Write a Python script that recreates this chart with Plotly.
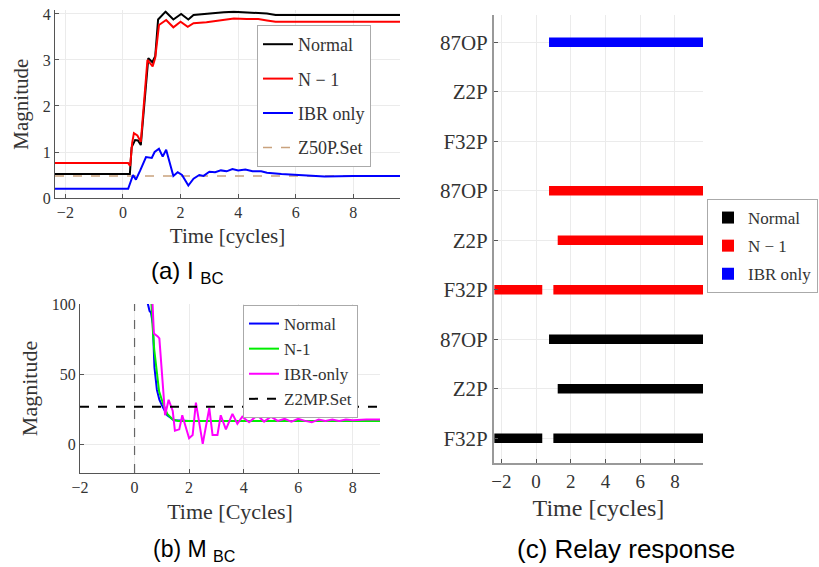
import plotly.graph_objects as go

# ---------------- Panel (a): I_BC ----------------
t_a_normal = [-2.36, 0.24, 0.30, 0.42, 0.52, 0.62, 0.88, 1.02, 1.12, 1.22, 1.48, 1.75, 2.02, 2.27, 2.45,
              2.9, 3.5, 3.85, 4.3, 4.7, 5.0, 5.3, 6.0, 7.0, 8.0, 9.62]
i_a_normal = [0.52, 0.52, 1.10, 1.26, 1.25, 1.15, 3.04, 2.95, 3.08, 3.88, 4.05, 3.88, 4.00, 3.88, 3.98,
              4.01, 4.04, 4.05, 4.04, 4.03, 4.01, 3.98, 3.98, 3.98, 3.98, 3.98]

t_a_n1 = [-2.36, 0.18, 0.25, 0.32, 0.38, 0.50, 0.62, 0.85, 1.03, 1.12, 1.25, 1.50, 1.75, 2.0, 2.25,
          2.45, 2.9, 3.5, 3.85, 4.3, 4.7, 5.0, 5.3, 6.0, 9.62]
i_a_n1 = [0.76, 0.76, 0.70, 1.20, 1.41, 1.36, 1.22, 3.00, 2.86, 3.05, 3.76, 3.87, 3.71, 3.83, 3.72,
          3.80, 3.82, 3.87, 3.90, 3.89, 3.89, 3.86, 3.83, 3.83, 3.83]

t_a_ibr = [-2.36, 0.18, 0.35, 0.45, 0.6, 0.8, 1.0, 1.1, 1.25, 1.38, 1.5, 1.62, 1.75, 1.9, 2.05, 2.27,
           2.45, 2.65, 2.8, 3.0, 3.2, 3.4, 3.6, 3.8, 4.0, 4.25, 4.5, 4.8, 5.0, 5.5, 6.0, 6.5, 7.0, 8.0, 9.62]
i_a_ibr = [0.20, 0.20, 0.50, 0.40, 0.60, 0.89, 0.87, 1.00, 1.07, 0.90, 1.05, 0.75, 0.48, 0.56, 0.50, 0.27,
           0.42, 0.50, 0.48, 0.57, 0.56, 0.60, 0.58, 0.63, 0.60, 0.62, 0.58, 0.58, 0.55, 0.52, 0.50, 0.48,
           0.47, 0.48, 0.48]

z50p_set = 0.48
a_xrange = [-2.36, 9.62]
a_yrange = [0, 4.08]

# ---------------- Panel (b): M_BC ----------------
t_b_normal = [0.42, 0.49, 0.55, 0.60, 0.67, 0.73, 0.82, 0.91, 1.03, 1.20, 1.45, 2.0, 4.0, 6.0, 9.0]
m_b_normal = [125, 100, 95, 94, 86, 55, 39, 32, 27, 21, 17.5, 17, 17, 17, 17]

t_b_n1 = [0.55, 0.61, 0.67, 0.72, 0.80, 0.90, 1.05, 1.20, 1.40, 1.60, 2.0, 4.0, 6.0, 9.0]
m_b_n1 = [125, 100, 82, 68, 55, 38, 29, 22, 18, 17, 17, 17, 17, 17]

t_b_ibr = [0.60, 0.65, 0.71, 0.85, 0.91, 1.12, 1.25, 1.40, 1.48, 1.64, 1.75, 2.0, 2.13, 2.25, 2.5, 2.74,
           2.86, 3.04, 3.16, 3.35, 3.59, 3.77, 3.95, 4.2, 4.5, 4.75, 5.0, 5.25, 5.5, 5.75, 6.0, 6.25,
           6.5, 6.75, 7.0, 7.25, 7.5, 7.75, 8.0, 8.5, 9.0]
m_b_ibr = [125, 100, 79, 77, 75.6, 21, 32, 24, 10, 11, 21, 4.7, 7, 30, 0.7, 26,
           7, 7, 21, 11, 22, 15, 20, 16, 21, 16.5, 20, 17, 18.5, 16.5, 18.5, 17,
           16, 18, 17, 18, 17, 18, 17.5, 18, 18]

z2mp_set = 27
b_xrange = [-2, 9]
b_yrange = [-20, 100]
fault_time = 0

# ---------------- Panel (c): Relay response ----------------
relay_ticktext = ["F32P", "Z2P", "87OP", "F32P", "Z2P", "87OP", "F32P", "Z2P", "87OP"]
relay_rows = [1, 2, 3, 4, 5, 6, 7, 8, 9]
# segments: (row, start, end)
normal_row = [1, 1, 2, 3]
normal_start = [-2.4, 1.0, 1.25, 0.75]
normal_end = [0.36, 9.62, 9.62, 9.62]
n1_row = [4, 4, 5, 6]
n1_start = [-2.4, 1.0, 1.25, 0.75]
n1_end = [0.36, 9.62, 9.62, 9.62]
ibr_row = [9]
ibr_start = [0.75]
ibr_end = [9.62]
c_xrange = [-2.42, 9.62]
c_yrange = [0.5, 9.55]

SERIF = "Liberation Serif"
SANS = "Liberation Sans"
GRID = "#ebebeb"
AX = "#555555"
TXT = "#333333"

W, H = 819, 567


def dom_x(a, b):
    return [a / W, b / W]


def dom_y(top, bottom):
    return [1 - bottom / H, 1 - top / H]


fig = go.Figure()

# (a)
fig.add_trace(go.Scatter(x=a_xrange, y=[z50p_set, z50p_set], mode="lines", name="Z50P.Set",
                         line=dict(color="#c9a27e", width=1.5, dash="dash"), xaxis="x", yaxis="y",
                         legend="legend", legendgroup="a4", legendrank=4))
fig.add_trace(go.Scatter(x=t_a_normal, y=i_a_normal, mode="lines", name="Normal",
                         line=dict(color="black", width=2), xaxis="x", yaxis="y",
                         legend="legend", legendgroup="a1", legendrank=1))
fig.add_trace(go.Scatter(x=t_a_n1, y=i_a_n1, mode="lines", name="N − 1",
                         line=dict(color="#ff0000", width=2), xaxis="x", yaxis="y",
                         legend="legend", legendgroup="a2", legendrank=2))
fig.add_trace(go.Scatter(x=t_a_ibr, y=i_a_ibr, mode="lines", name="IBR only",
                         line=dict(color="#0000ff", width=2), xaxis="x", yaxis="y",
                         legend="legend", legendgroup="a3", legendrank=3))

# (b)
fig.add_trace(go.Scatter(x=t_b_normal, y=m_b_normal, mode="lines", name="Normal",
                         line=dict(color="#0000ff", width=2), xaxis="x2", yaxis="y2",
                         legend="legend2"))
fig.add_trace(go.Scatter(x=t_b_n1, y=m_b_n1, mode="lines", name="N-1",
                         line=dict(color="#00ee00", width=2), xaxis="x2", yaxis="y2",
                         legend="legend2"))
fig.add_trace(go.Scatter(x=t_b_ibr, y=m_b_ibr, mode="lines", name="IBR-only",
                         line=dict(color="#ff00ff", width=2), xaxis="x2", yaxis="y2",
                         legend="legend2"))
fig.add_trace(go.Scatter(x=b_xrange, y=[z2mp_set, z2mp_set], mode="lines", name="Z2MP.Set",
                         line=dict(color="black", width=2, dash="dash"), xaxis="x2", yaxis="y2",
                         legend="legend2"))
fig.add_shape(type="line", xref="x2", yref="y2 domain", x0=fault_time, x1=fault_time, y0=0, y1=1,
              line=dict(color="#666666", width=1.2, dash="dash"))


# (c)
def add_relay(rows, starts, ends, color, name, grp):
    fig.add_trace(go.Bar(orientation="h", y=rows, base=starts,
                         x=[e - s for s, e in zip(starts, ends)], width=0.19,
                         marker=dict(color=color, line=dict(width=0)), name=name,
                         xaxis="x3", yaxis="y3", legend="legend3", legendgroup=grp))


add_relay(normal_row, normal_start, normal_end, "black", "Normal", "c1")
add_relay(n1_row, n1_start, n1_end, "#ff0000", "N − 1", "c2")
add_relay(ibr_row, ibr_start, ibr_end, "#0000ff", "IBR only", "c3")

axis_common = dict(showgrid=True, gridcolor=GRID, gridwidth=1, showline=True, linecolor=AX,
                   linewidth=1, ticks="inside", ticklen=4, tickcolor=AX, zeroline=False,
                   tickfont=dict(family=SERIF, size=16, color=TXT))

fig.update_layout(
    width=W, height=H, margin=dict(l=0, r=0, t=0, b=0, autoexpand=False),
    paper_bgcolor="white", plot_bgcolor="white", barmode="overlay",
    font=dict(family=SERIF, color=TXT),
    xaxis=dict(domain=dom_x(55, 400), range=a_xrange, anchor="y", tickvals=[-2, 0, 2, 4, 6, 8],
               title=dict(text="Time [cycles]", font=dict(family=SERIF, size=21, color=TXT), standoff=8),
               **axis_common),
    yaxis=dict(domain=dom_y(10.3, 198), range=a_yrange, anchor="x", tickvals=[0, 1, 2, 3, 4],
               title=dict(text="Magnitude", font=dict(family=SERIF, size=21, color=TXT), standoff=8),
               **axis_common),
    xaxis2=dict(domain=dom_x(80, 380), range=b_xrange, anchor="y2", tickvals=[-2, 0, 2, 4, 6, 8],
                title=dict(text="Time [Cycles]", font=dict(family=SERIF, size=22, color=TXT), standoff=8),
                **axis_common),
    yaxis2=dict(domain=dom_y(304, 473), range=b_yrange, anchor="x2", tickvals=[0, 50, 100],
                title=dict(text="Magnitude", font=dict(family=SERIF, size=22, color=TXT), standoff=8),
                **axis_common),
    xaxis3=dict(domain=dom_x(494, 703), range=c_xrange, anchor="y3", tickvals=[-2, 0, 2, 4, 6, 8],
                title=dict(text="Time [cycles]", font=dict(family=SERIF, size=24, color=TXT), standoff=8),
                **{**axis_common, "linecolor": "#999999", "linewidth": 2,
                   "tickfont": dict(family=SERIF, size=19, color=TXT)}),
    yaxis3=dict(domain=dom_y(15, 463), range=c_yrange, anchor="x3", tickvals=relay_rows,
                ticktext=relay_ticktext,
                **{**axis_common, "linecolor": "#999999", "linewidth": 2,
                   "tickfont": dict(family=SERIF, size=21, color=TXT)}),
    legend=dict(x=257 / W, y=1 - 25 / H, xanchor="left", yanchor="top", bgcolor="white",
                bordercolor="#aaaaaa", borderwidth=1, font=dict(family=SERIF, size=18, color=TXT),
                traceorder="grouped", tracegroupgap=8, itemwidth=30),
    legend2=dict(x=243 / W, y=1 - 305 / H, xanchor="left", yanchor="top", bgcolor="white",
                 bordercolor="#aaaaaa", borderwidth=1, font=dict(family=SERIF, size=17, color=TXT),
                 traceorder="normal", itemwidth=30),
    legend3=dict(x=707 / W, y=1 - 199 / H, xanchor="left", yanchor="top", bgcolor="white",
                 bordercolor="#aaaaaa", borderwidth=1, font=dict(family=SERIF, size=17, color=TXT),
                 traceorder="grouped", tracegroupgap=3, itemwidth=30),
    showlegend=True,
)

# captions
fig.add_annotation(text="(a) I <sub>BC</sub>", x=187 / W, y=1 - 273 / H, xref="paper", yref="paper",
                   xanchor="center", yanchor="middle",
                   showarrow=False, font=dict(family=SANS, size=24, color="black"))
fig.add_annotation(text="(b) M <sub>BC</sub>", x=194 / W, y=1 - 550 / H, xref="paper", yref="paper",
                   xanchor="center", yanchor="middle",
                   showarrow=False, font=dict(family=SANS, size=23, color="black"))
fig.add_annotation(text="(c) Relay response", x=626 / W, y=1 - 549 / H, xref="paper", yref="paper",
                   xanchor="center", yanchor="middle",
                   showarrow=False, font=dict(family=SANS, size=26, color="black"))

fig.write_html("out.html")
